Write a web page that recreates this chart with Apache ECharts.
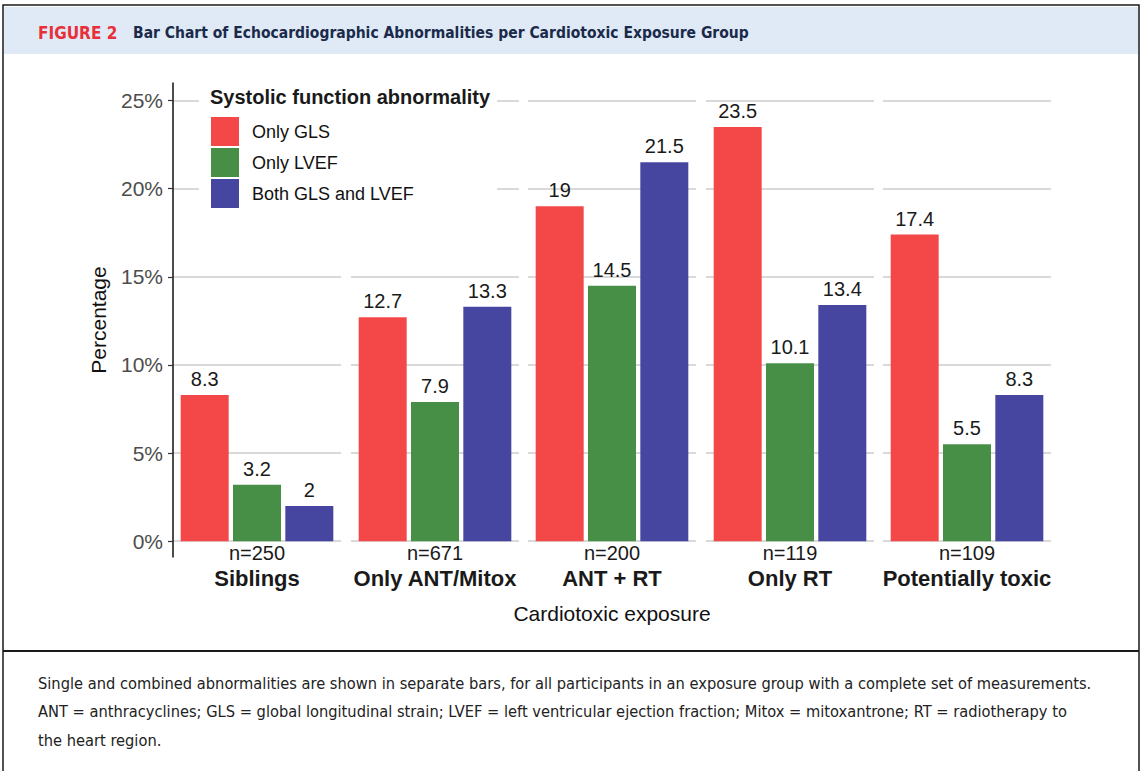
<!DOCTYPE html>
<html>
<head>
<meta charset="utf-8">
<title>Figure 2</title>
<script src="https://cdn.jsdelivr.net/npm/echarts@6/dist/echarts.min.js"></script>
<style>
  html, body { margin: 0; padding: 0; background: #fff; }
  #main { width: 1142px; height: 771px; }
</style>
</head>
<body>
<div id="main"></div>
<script>
// 数据
var categories = ['Siblings', 'Only ANT/Mitox', 'ANT + RT', 'Only RT', 'Potentially toxic'];
var groupN = ['n=250', 'n=671', 'n=200', 'n=119', 'n=109'];
var seriesNames = ['Only GLS', 'Only LVEF', 'Both GLS and LVEF'];
var onlyGls = [8.3, 12.7, 19, 23.5, 17.4];
var onlyLvef = [3.2, 7.9, 14.5, 10.1, 5.5];
var bothGlsLvef = [2, 13.3, 21.5, 13.4, 8.3];
var yTicks = [0, 5, 10, 15, 20, 25];

var colors = ['#F44848', '#478F47', '#4646A0'];
var panelLeft = [173, 351, 528, 706, 883];
var sansFont = "'Liberation Sans', Arial, sans-serif";
var narrowFont = "'Liberation Sans Narrow', 'DejaVu Sans Condensed', 'Liberation Sans', sans-serif";

var myChart = echarts.init(document.getElementById('main'), null, { renderer: 'svg' });

var grids = [];
var xAxes = [];
var yAxes = [];
var series = [];
var values = [onlyGls, onlyLvef, bothGlsLvef];

// 每个暴露组一个面板
for (var i = 0; i < categories.length; i++) {
    grids.push({ left: panelLeft[i], top: 83, width: 168, height: 474 });

    xAxes.push({
        type: 'category',
        gridIndex: i,
        data: [categories[i]],
        axisLine: { show: false },
        axisTick: { show: false },
        splitLine: { show: false },
        axisLabel: {
            margin: -16,   // 标签贴着0%线
            formatter: (function (n) {
                return function (v) { return '{n|' + n + '}\n{c|' + v + '}'; };
            })(groupN[i]),
            rich: {
                n: { fontSize: 20, color: '#1a1a1a', lineHeight: 24, fontFamily: sansFont },
                c: { fontSize: 22, fontWeight: 'bold', color: '#1a1a1a', lineHeight: 26, fontFamily: sansFont }
            }
        }
    });

    var first = (i === 0);
    yAxes.push({
        type: 'value',
        gridIndex: i,
        min: -0.9,
        max: 26,
        name: first ? 'Percentage' : '',
        nameLocation: 'middle',
        nameGap: 64,
        nameTextStyle: { fontSize: 21, color: '#111', fontFamily: sansFont },
        axisLine: { show: first, lineStyle: { color: '#111', width: 1.5 } },
        axisTick: { show: first, length: 5, customValues: yTicks, lineStyle: { color: '#333', width: 1.2 } },
        axisLabel: {
            show: first,
            customValues: yTicks,
            margin: 10,
            formatter: '{value}%',
            fontSize: 21,
            color: '#4d4d4d',
            fontFamily: sansFont
        },
        splitLine: { show: true, lineStyle: { color: '#cccccc', width: 1.5 } }
    });

    for (var s = 0; s < 3; s++) {
        series.push({
            name: seriesNames[s],
            type: 'bar',
            xAxisIndex: i,
            yAxisIndex: i,
            barWidth: 48,
            barGap: '9%',
            itemStyle: { color: colors[s] },
            label: {
                show: true,
                position: 'top',
                distance: 6,
                fontSize: 20,
                color: '#1a1a1a',
                fontFamily: sansFont
            },
            data: [values[s][i]]
        });
    }
}

var option = {
    animation: false,
    color: colors,
    grid: grids,
    xAxis: xAxes,
    yAxis: yAxes,
    legend: {
        data: seriesNames,
        orient: 'vertical',
        left: 211,
        top: 117,
        padding: 0,
        icon: 'rect',
        itemWidth: 28,
        itemHeight: 29,
        itemGap: 2,
        textStyle: { fontSize: 18, color: '#111', fontFamily: sansFont, padding: [0, 0, 0, 8] }
    },
    graphic: [
        // 外框
        { type: 'rect', shape: { x: 3, y: 5, width: 1136, height: 800 }, style: { fill: 'none', stroke: '#1a1a1a', lineWidth: 1.5 }, silent: true },
        // 标题栏
        { type: 'rect', shape: { x: 4, y: 7, width: 1134, height: 47 }, style: { fill: '#dfeaf6' }, silent: true },
        { type: 'text', x: 38, y: 33, style: { text: 'FIGURE 2', fill: '#e8303a', font: 'bold 17px ' + narrowFont, textVerticalAlign: 'middle' } },
        { type: 'text', x: 133, y: 33, style: { text: 'Bar Chart of Echocardiographic Abnormalities per Cardiotoxic Exposure Group', fill: '#1b2a4a', font: 'bold 15.5px ' + narrowFont, textVerticalAlign: 'middle' } },
        // 图例背景和标题
        { type: 'rect', shape: { x: 199, y: 84, width: 298, height: 128 }, style: { fill: '#fff' }, z: 1, silent: true },
        { type: 'text', x: 210, y: 97, z: 5, style: { text: 'Systolic function abnormality', fill: '#1a1a1a', font: 'bold 20px ' + sansFont, textVerticalAlign: 'middle' } },
        // 横轴标题
        { type: 'text', x: 612, y: 613, style: { text: 'Cardiotoxic exposure', fill: '#111', font: '21px ' + sansFont, textAlign: 'center', textVerticalAlign: 'middle' } },
        // 说明分隔线
        { type: 'line', shape: { x1: 3, y1: 651, x2: 1139, y2: 651 }, style: { stroke: '#1a1a1a', lineWidth: 2 }, silent: true },
        { type: 'text', x: 38, y: 683, style: { text: 'Single and combined abnormalities are shown in separate bars, for all participants in an exposure group with a complete set of measurements.', fill: '#222', font: '16.3px ' + narrowFont, textVerticalAlign: 'middle' } },
        { type: 'text', x: 38, y: 711, style: { text: 'ANT = anthracyclines; GLS = global longitudinal strain; LVEF = left ventricular ejection fraction; Mitox = mitoxantrone; RT = radiotherapy to', fill: '#222', font: '16.3px ' + narrowFont, textVerticalAlign: 'middle' } },
        { type: 'text', x: 38, y: 740, style: { text: 'the heart region.', fill: '#222', font: '16.3px ' + narrowFont, textVerticalAlign: 'middle' } }
    ],
    series: series
};

myChart.setOption(option);
</script>
</body>
</html>
